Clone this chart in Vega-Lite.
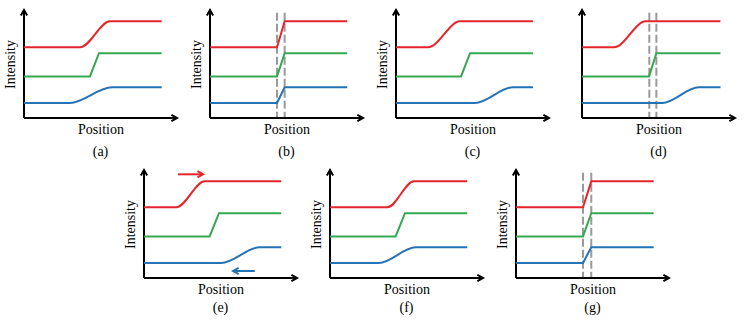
{
  "$schema": "https://vega.github.io/schema/vega-lite/v6.json",
  "background": "white",
  "padding": {"left": 3, "top": 6, "right": 0, "bottom": 0},
  "autosize": {"type": "pad"},
  "config": {
    "view": {"stroke": null},
    "axis": {"domain": false, "ticks": false, "labels": false, "grid": false, "titleFont": "Liberation Serif", "titleFontSize": 14, "titleFontWeight": "normal", "titleColor": "#000000"},
    "axisX": {"titlePadding": 4},
    "axisY": {"titlePadding": 7},
    "title": {"orient": "bottom", "frame": "group", "anchor": "middle", "font": "Liberation Serif", "fontSize": 14, "fontWeight": "normal", "color": "#000000"}
  },
  "datasets": {
    "rules": [
      {"p": "*", "s": "k", "x": 0, "y": 0, "x2": 10, "y2": 0},
      {"p": "*", "s": "k", "x": 0, "y": 0, "x2": 0, "y2": 10},
      {"p": "e", "s": "r", "x": 2.22, "y": 9.6, "x2": 3.86, "y2": 9.6},
      {"p": "e", "s": "b", "x": 5.82, "y": 0.65, "x2": 7.24, "y2": 0.65}
    ],
    "tips": [
      {"p": "*", "s": "k", "d": "r", "x": 10, "y": 0},
      {"p": "*", "s": "k", "d": "u", "x": 0, "y": 10},
      {"p": "e", "s": "r", "d": "r", "x": 3.86, "y": 9.6},
      {"p": "e", "s": "b", "d": "l", "x": 5.82, "y": 0.65}
    ],
    "dash": [
      {"p": "b", "s": "d", "x": 4.38, "y": 9.75, "y2": 0},
      {"p": "b", "s": "d", "x": 4.88, "y": 9.75, "y2": 0},
      {"p": "d", "s": "d", "x": 4.4, "y": 9.75, "y2": 0},
      {"p": "d", "s": "d", "x": 4.86, "y": 9.75, "y2": 0},
      {"p": "g", "s": "d", "x": 4.38, "y": 9.75, "y2": 0},
      {"p": "g", "s": "d", "x": 4.92, "y": 9.75, "y2": 0}
    ],
    "lines": [
      {"p": "a", "s": "r", "c": "s", "x": 0, "y": 6.55}, {"p": "a", "s": "r", "c": "s", "x": 3.66, "y": 6.55}, {"p": "a", "s": "r", "c": "s", "x": 5.62, "y": 8.95}, {"p": "a", "s": "r", "c": "s", "x": 9.0, "y": 8.95},
      {"p": "a", "s": "g", "c": "l", "x": 0, "y": 3.85}, {"p": "a", "s": "g", "c": "l", "x": 4.31, "y": 3.85}, {"p": "a", "s": "g", "c": "l", "x": 4.9, "y": 6.0}, {"p": "a", "s": "g", "c": "l", "x": 9.0, "y": 6.0},
      {"p": "a", "s": "b", "c": "s", "x": 0, "y": 1.4}, {"p": "a", "s": "b", "c": "s", "x": 3.0, "y": 1.4}, {"p": "a", "s": "b", "c": "s", "x": 5.75, "y": 2.85}, {"p": "a", "s": "b", "c": "s", "x": 9.0, "y": 2.85},

      {"p": "b", "s": "r", "c": "l", "x": 0, "y": 6.55}, {"p": "b", "s": "r", "c": "l", "x": 4.38, "y": 6.55}, {"p": "b", "s": "r", "c": "l", "x": 4.88, "y": 8.95}, {"p": "b", "s": "r", "c": "l", "x": 8.97, "y": 8.95},
      {"p": "b", "s": "g", "c": "l", "x": 0, "y": 3.85}, {"p": "b", "s": "g", "c": "l", "x": 4.38, "y": 3.85}, {"p": "b", "s": "g", "c": "l", "x": 4.88, "y": 6.0}, {"p": "b", "s": "g", "c": "l", "x": 8.97, "y": 6.0},
      {"p": "b", "s": "b", "c": "l", "x": 0, "y": 1.4}, {"p": "b", "s": "b", "c": "l", "x": 4.38, "y": 1.4}, {"p": "b", "s": "b", "c": "l", "x": 4.88, "y": 2.85}, {"p": "b", "s": "b", "c": "l", "x": 8.97, "y": 2.85},

      {"p": "c", "s": "r", "c": "s", "x": 0, "y": 6.55}, {"p": "c", "s": "r", "c": "s", "x": 2.09, "y": 6.55}, {"p": "c", "s": "r", "c": "s", "x": 4.18, "y": 8.95}, {"p": "c", "s": "r", "c": "s", "x": 8.95, "y": 8.95},
      {"p": "c", "s": "g", "c": "l", "x": 0, "y": 3.85}, {"p": "c", "s": "g", "c": "l", "x": 4.25, "y": 3.85}, {"p": "c", "s": "g", "c": "l", "x": 4.84, "y": 6.0}, {"p": "c", "s": "g", "c": "l", "x": 8.95, "y": 6.0},
      {"p": "c", "s": "b", "c": "s", "x": 0, "y": 1.4}, {"p": "c", "s": "b", "c": "s", "x": 5.16, "y": 1.4}, {"p": "c", "s": "b", "c": "s", "x": 7.65, "y": 2.85}, {"p": "c", "s": "b", "c": "s", "x": 8.95, "y": 2.85},

      {"p": "d", "s": "r", "c": "s", "x": 0, "y": 6.55}, {"p": "d", "s": "r", "c": "s", "x": 2.09, "y": 6.55}, {"p": "d", "s": "r", "c": "s", "x": 4.16, "y": 8.95}, {"p": "d", "s": "r", "c": "s", "x": 9.05, "y": 8.95},
      {"p": "d", "s": "g", "c": "l", "x": 0, "y": 3.85}, {"p": "d", "s": "g", "c": "l", "x": 4.38, "y": 3.85}, {"p": "d", "s": "g", "c": "l", "x": 4.86, "y": 6.0}, {"p": "d", "s": "g", "c": "l", "x": 9.05, "y": 6.0},
      {"p": "d", "s": "b", "c": "s", "x": 0, "y": 1.4}, {"p": "d", "s": "b", "c": "s", "x": 5.25, "y": 1.4}, {"p": "d", "s": "b", "c": "s", "x": 7.63, "y": 2.85}, {"p": "d", "s": "b", "c": "s", "x": 9.05, "y": 2.85},

      {"p": "e", "s": "r", "c": "s", "x": 0, "y": 6.55}, {"p": "e", "s": "r", "c": "s", "x": 2.1, "y": 6.55}, {"p": "e", "s": "r", "c": "s", "x": 3.97, "y": 8.95}, {"p": "e", "s": "r", "c": "s", "x": 8.97, "y": 8.95},
      {"p": "e", "s": "g", "c": "l", "x": 0, "y": 3.85}, {"p": "e", "s": "g", "c": "l", "x": 4.29, "y": 3.85}, {"p": "e", "s": "g", "c": "l", "x": 4.9, "y": 6.0}, {"p": "e", "s": "g", "c": "l", "x": 8.97, "y": 6.0},
      {"p": "e", "s": "b", "c": "s", "x": 0, "y": 1.4}, {"p": "e", "s": "b", "c": "s", "x": 5.05, "y": 1.4}, {"p": "e", "s": "b", "c": "s", "x": 7.56, "y": 2.85}, {"p": "e", "s": "b", "c": "s", "x": 8.97, "y": 2.85},

      {"p": "f", "s": "r", "c": "s", "x": 0, "y": 6.55}, {"p": "f", "s": "r", "c": "s", "x": 3.75, "y": 6.55}, {"p": "f", "s": "r", "c": "s", "x": 5.49, "y": 8.95}, {"p": "f", "s": "r", "c": "s", "x": 8.97, "y": 8.95},
      {"p": "f", "s": "g", "c": "l", "x": 0, "y": 3.85}, {"p": "f", "s": "g", "c": "l", "x": 4.29, "y": 3.85}, {"p": "f", "s": "g", "c": "l", "x": 4.9, "y": 6.0}, {"p": "f", "s": "g", "c": "l", "x": 8.97, "y": 6.0},
      {"p": "f", "s": "b", "c": "s", "x": 0, "y": 1.4}, {"p": "f", "s": "b", "c": "s", "x": 3.2, "y": 1.4}, {"p": "f", "s": "b", "c": "s", "x": 5.6, "y": 2.85}, {"p": "f", "s": "b", "c": "s", "x": 8.97, "y": 2.85},

      {"p": "g", "s": "r", "c": "l", "x": 0, "y": 6.55}, {"p": "g", "s": "r", "c": "l", "x": 4.38, "y": 6.55}, {"p": "g", "s": "r", "c": "l", "x": 4.92, "y": 8.95}, {"p": "g", "s": "r", "c": "l", "x": 9.0, "y": 8.95},
      {"p": "g", "s": "g", "c": "l", "x": 0, "y": 3.85}, {"p": "g", "s": "g", "c": "l", "x": 4.38, "y": 3.85}, {"p": "g", "s": "g", "c": "l", "x": 4.92, "y": 6.0}, {"p": "g", "s": "g", "c": "l", "x": 9.0, "y": 6.0},
      {"p": "g", "s": "b", "c": "l", "x": 0, "y": 1.4}, {"p": "g", "s": "b", "c": "l", "x": 4.38, "y": 1.4}, {"p": "g", "s": "b", "c": "l", "x": 4.92, "y": 2.85}, {"p": "g", "s": "b", "c": "l", "x": 9.0, "y": 2.85}
    ]
  },
  "vconcat": [
    {
      "bounds": "flush",
      "spacing": 33,
      "hconcat": [
        {
          "width": 153, "height": 108,
          "title": {"text": "(a)", "offset": 9},
          "encoding": {
            "x": {"field": "x", "type": "quantitative", "scale": {"domain": [0, 10], "nice": false}, "axis": {"title": "Position"}},
            "y": {"field": "y", "type": "quantitative", "scale": {"domain": [0, 10], "nice": false}, "axis": {"title": "Intensity"}},
            "color": {"field": "s", "type": "nominal", "scale": {"domain": ["k", "r", "g", "b", "d"], "range": ["#000000", "#e3262c", "#36a852", "#2473b6", "#9a9a9a"]}, "legend": null}
          },
          "layer": [
            {"data": {"name": "dash"}, "transform": [{"filter": "datum.p=='a'"}], "mark": {"type": "rule", "strokeDash": [8, 3], "strokeWidth": 2}, "encoding": {"y2": {"field": "y2"}}},
            {"data": {"name": "rules"}, "transform": [{"filter": "datum.p=='*'||datum.p=='a'"}], "mark": {"type": "rule", "strokeWidth": 2}, "encoding": {"x2": {"field": "x2"}, "y2": {"field": "y2"}}},
            {"data": {"name": "tips"}, "transform": [{"filter": "datum.p=='*'||datum.p=='a'"}], "mark": {"type": "point", "filled": false, "strokeWidth": 2, "size": 49, "opacity": 1}, "encoding": {"shape": {"field": "d", "type": "nominal", "scale": {"domain": ["r", "u", "l"], "range": ["M-1.6,-0.9L0,0L-1.6,0.9", "M-0.9,1.6L0,0L0.9,1.6", "M1.6,-0.9L0,0L1.6,0.9"]}, "legend": null}}},
            {"data": {"name": "lines"}, "transform": [{"filter": "datum.p=='a'&&datum.c=='s'"}], "mark": {"type": "line", "interpolate": "monotone", "strokeWidth": 2}},
            {"data": {"name": "lines"}, "transform": [{"filter": "datum.p=='a'&&datum.c=='l'"}], "mark": {"type": "line", "strokeWidth": 2}}
          ]
        },
        {
          "width": 153, "height": 108,
          "title": {"text": "(b)", "offset": 9},
          "encoding": {
            "x": {"field": "x", "type": "quantitative", "scale": {"domain": [0, 10], "nice": false}, "axis": {"title": "Position"}},
            "y": {"field": "y", "type": "quantitative", "scale": {"domain": [0, 10], "nice": false}, "axis": {"title": "Intensity"}},
            "color": {"field": "s", "type": "nominal", "scale": {"domain": ["k", "r", "g", "b", "d"], "range": ["#000000", "#e3262c", "#36a852", "#2473b6", "#9a9a9a"]}, "legend": null}
          },
          "layer": [
            {"data": {"name": "dash"}, "transform": [{"filter": "datum.p=='b'"}], "mark": {"type": "rule", "strokeDash": [8, 3], "strokeWidth": 2}, "encoding": {"y2": {"field": "y2"}}},
            {"data": {"name": "rules"}, "transform": [{"filter": "datum.p=='*'||datum.p=='b'"}], "mark": {"type": "rule", "strokeWidth": 2}, "encoding": {"x2": {"field": "x2"}, "y2": {"field": "y2"}}},
            {"data": {"name": "tips"}, "transform": [{"filter": "datum.p=='*'||datum.p=='b'"}], "mark": {"type": "point", "filled": false, "strokeWidth": 2, "size": 49, "opacity": 1}, "encoding": {"shape": {"field": "d", "type": "nominal", "scale": {"domain": ["r", "u", "l"], "range": ["M-1.6,-0.9L0,0L-1.6,0.9", "M-0.9,1.6L0,0L0.9,1.6", "M1.6,-0.9L0,0L1.6,0.9"]}, "legend": null}}},
            {"data": {"name": "lines"}, "transform": [{"filter": "datum.p=='b'&&datum.c=='s'"}], "mark": {"type": "line", "interpolate": "monotone", "strokeWidth": 2}},
            {"data": {"name": "lines"}, "transform": [{"filter": "datum.p=='b'&&datum.c=='l'"}], "mark": {"type": "line", "strokeWidth": 2}}
          ]
        },
        {
          "width": 153, "height": 108,
          "title": {"text": "(c)", "offset": 9},
          "encoding": {
            "x": {"field": "x", "type": "quantitative", "scale": {"domain": [0, 10], "nice": false}, "axis": {"title": "Position"}},
            "y": {"field": "y", "type": "quantitative", "scale": {"domain": [0, 10], "nice": false}, "axis": {"title": "Intensity"}},
            "color": {"field": "s", "type": "nominal", "scale": {"domain": ["k", "r", "g", "b", "d"], "range": ["#000000", "#e3262c", "#36a852", "#2473b6", "#9a9a9a"]}, "legend": null}
          },
          "layer": [
            {"data": {"name": "dash"}, "transform": [{"filter": "datum.p=='c'"}], "mark": {"type": "rule", "strokeDash": [8, 3], "strokeWidth": 2}, "encoding": {"y2": {"field": "y2"}}},
            {"data": {"name": "rules"}, "transform": [{"filter": "datum.p=='*'||datum.p=='c'"}], "mark": {"type": "rule", "strokeWidth": 2}, "encoding": {"x2": {"field": "x2"}, "y2": {"field": "y2"}}},
            {"data": {"name": "tips"}, "transform": [{"filter": "datum.p=='*'||datum.p=='c'"}], "mark": {"type": "point", "filled": false, "strokeWidth": 2, "size": 49, "opacity": 1}, "encoding": {"shape": {"field": "d", "type": "nominal", "scale": {"domain": ["r", "u", "l"], "range": ["M-1.6,-0.9L0,0L-1.6,0.9", "M-0.9,1.6L0,0L0.9,1.6", "M1.6,-0.9L0,0L1.6,0.9"]}, "legend": null}}},
            {"data": {"name": "lines"}, "transform": [{"filter": "datum.p=='c'&&datum.c=='s'"}], "mark": {"type": "line", "interpolate": "monotone", "strokeWidth": 2}},
            {"data": {"name": "lines"}, "transform": [{"filter": "datum.p=='c'&&datum.c=='l'"}], "mark": {"type": "line", "strokeWidth": 2}}
          ]
        },
        {
          "width": 153, "height": 108,
          "title": {"text": "(d)", "offset": 9},
          "encoding": {
            "x": {"field": "x", "type": "quantitative", "scale": {"domain": [0, 10], "nice": false}, "axis": {"title": "Position"}},
            "y": {"field": "y", "type": "quantitative", "scale": {"domain": [0, 10], "nice": false}, "axis": {"title": null}},
            "color": {"field": "s", "type": "nominal", "scale": {"domain": ["k", "r", "g", "b", "d"], "range": ["#000000", "#e3262c", "#36a852", "#2473b6", "#9a9a9a"]}, "legend": null}
          },
          "layer": [
            {"data": {"name": "dash"}, "transform": [{"filter": "datum.p=='d'"}], "mark": {"type": "rule", "strokeDash": [8, 3], "strokeWidth": 2}, "encoding": {"y2": {"field": "y2"}}},
            {"data": {"name": "rules"}, "transform": [{"filter": "datum.p=='*'||datum.p=='d'"}], "mark": {"type": "rule", "strokeWidth": 2}, "encoding": {"x2": {"field": "x2"}, "y2": {"field": "y2"}}},
            {"data": {"name": "tips"}, "transform": [{"filter": "datum.p=='*'||datum.p=='d'"}], "mark": {"type": "point", "filled": false, "strokeWidth": 2, "size": 49, "opacity": 1}, "encoding": {"shape": {"field": "d", "type": "nominal", "scale": {"domain": ["r", "u", "l"], "range": ["M-1.6,-0.9L0,0L-1.6,0.9", "M-0.9,1.6L0,0L0.9,1.6", "M1.6,-0.9L0,0L1.6,0.9"]}, "legend": null}}},
            {"data": {"name": "lines"}, "transform": [{"filter": "datum.p=='d'&&datum.c=='s'"}], "mark": {"type": "line", "interpolate": "monotone", "strokeWidth": 2}},
            {"data": {"name": "lines"}, "transform": [{"filter": "datum.p=='d'&&datum.c=='l'"}], "mark": {"type": "line", "strokeWidth": 2}}
          ]
        }
      ]
    },
    {
      "bounds": "flush",
      "spacing": 33,
      "hconcat": [
        {
          "width": 87, "height": 108,
          "data": {"values": [{"t": ""}]},
          "mark": {"type": "text"},
          "encoding": {"text": {"field": "t"}}
        },
        {
          "width": 153, "height": 108,
          "title": {"text": "(e)", "offset": 5},
          "encoding": {
            "x": {"field": "x", "type": "quantitative", "scale": {"domain": [0, 10], "nice": false}, "axis": {"title": "Position"}},
            "y": {"field": "y", "type": "quantitative", "scale": {"domain": [0, 10], "nice": false}, "axis": {"title": "Intensity"}},
            "color": {"field": "s", "type": "nominal", "scale": {"domain": ["k", "r", "g", "b", "d"], "range": ["#000000", "#e3262c", "#36a852", "#2473b6", "#9a9a9a"]}, "legend": null}
          },
          "layer": [
            {"data": {"name": "dash"}, "transform": [{"filter": "datum.p=='e'"}], "mark": {"type": "rule", "strokeDash": [8, 3], "strokeWidth": 2}, "encoding": {"y2": {"field": "y2"}}},
            {"data": {"name": "rules"}, "transform": [{"filter": "datum.p=='*'||datum.p=='e'"}], "mark": {"type": "rule", "strokeWidth": 2}, "encoding": {"x2": {"field": "x2"}, "y2": {"field": "y2"}}},
            {"data": {"name": "tips"}, "transform": [{"filter": "datum.p=='*'||datum.p=='e'"}], "mark": {"type": "point", "filled": false, "strokeWidth": 2, "size": 49, "opacity": 1}, "encoding": {"shape": {"field": "d", "type": "nominal", "scale": {"domain": ["r", "u", "l"], "range": ["M-1.6,-0.9L0,0L-1.6,0.9", "M-0.9,1.6L0,0L0.9,1.6", "M1.6,-0.9L0,0L1.6,0.9"]}, "legend": null}}},
            {"data": {"name": "lines"}, "transform": [{"filter": "datum.p=='e'&&datum.c=='s'"}], "mark": {"type": "line", "interpolate": "monotone", "strokeWidth": 2}},
            {"data": {"name": "lines"}, "transform": [{"filter": "datum.p=='e'&&datum.c=='l'"}], "mark": {"type": "line", "strokeWidth": 2}}
          ]
        },
        {
          "width": 153, "height": 108,
          "title": {"text": "(f)", "offset": 5},
          "encoding": {
            "x": {"field": "x", "type": "quantitative", "scale": {"domain": [0, 10], "nice": false}, "axis": {"title": "Position"}},
            "y": {"field": "y", "type": "quantitative", "scale": {"domain": [0, 10], "nice": false}, "axis": {"title": "Intensity"}},
            "color": {"field": "s", "type": "nominal", "scale": {"domain": ["k", "r", "g", "b", "d"], "range": ["#000000", "#e3262c", "#36a852", "#2473b6", "#9a9a9a"]}, "legend": null}
          },
          "layer": [
            {"data": {"name": "dash"}, "transform": [{"filter": "datum.p=='f'"}], "mark": {"type": "rule", "strokeDash": [8, 3], "strokeWidth": 2}, "encoding": {"y2": {"field": "y2"}}},
            {"data": {"name": "rules"}, "transform": [{"filter": "datum.p=='*'||datum.p=='f'"}], "mark": {"type": "rule", "strokeWidth": 2}, "encoding": {"x2": {"field": "x2"}, "y2": {"field": "y2"}}},
            {"data": {"name": "tips"}, "transform": [{"filter": "datum.p=='*'||datum.p=='f'"}], "mark": {"type": "point", "filled": false, "strokeWidth": 2, "size": 49, "opacity": 1}, "encoding": {"shape": {"field": "d", "type": "nominal", "scale": {"domain": ["r", "u", "l"], "range": ["M-1.6,-0.9L0,0L-1.6,0.9", "M-0.9,1.6L0,0L0.9,1.6", "M1.6,-0.9L0,0L1.6,0.9"]}, "legend": null}}},
            {"data": {"name": "lines"}, "transform": [{"filter": "datum.p=='f'&&datum.c=='s'"}], "mark": {"type": "line", "interpolate": "monotone", "strokeWidth": 2}},
            {"data": {"name": "lines"}, "transform": [{"filter": "datum.p=='f'&&datum.c=='l'"}], "mark": {"type": "line", "strokeWidth": 2}}
          ]
        },
        {
          "width": 153, "height": 108,
          "title": {"text": "(g)", "offset": 5},
          "encoding": {
            "x": {"field": "x", "type": "quantitative", "scale": {"domain": [0, 10], "nice": false}, "axis": {"title": "Position"}},
            "y": {"field": "y", "type": "quantitative", "scale": {"domain": [0, 10], "nice": false}, "axis": {"title": "Intensity"}},
            "color": {"field": "s", "type": "nominal", "scale": {"domain": ["k", "r", "g", "b", "d"], "range": ["#000000", "#e3262c", "#36a852", "#2473b6", "#9a9a9a"]}, "legend": null}
          },
          "layer": [
            {"data": {"name": "dash"}, "transform": [{"filter": "datum.p=='g'"}], "mark": {"type": "rule", "strokeDash": [8, 3], "strokeWidth": 2}, "encoding": {"y2": {"field": "y2"}}},
            {"data": {"name": "rules"}, "transform": [{"filter": "datum.p=='*'||datum.p=='g'"}], "mark": {"type": "rule", "strokeWidth": 2}, "encoding": {"x2": {"field": "x2"}, "y2": {"field": "y2"}}},
            {"data": {"name": "tips"}, "transform": [{"filter": "datum.p=='*'||datum.p=='g'"}], "mark": {"type": "point", "filled": false, "strokeWidth": 2, "size": 49, "opacity": 1}, "encoding": {"shape": {"field": "d", "type": "nominal", "scale": {"domain": ["r", "u", "l"], "range": ["M-1.6,-0.9L0,0L-1.6,0.9", "M-0.9,1.6L0,0L0.9,1.6", "M1.6,-0.9L0,0L1.6,0.9"]}, "legend": null}}},
            {"data": {"name": "lines"}, "transform": [{"filter": "datum.p=='g'&&datum.c=='s'"}], "mark": {"type": "line", "interpolate": "monotone", "strokeWidth": 2}},
            {"data": {"name": "lines"}, "transform": [{"filter": "datum.p=='g'&&datum.c=='l'"}], "mark": {"type": "line", "strokeWidth": 2}}
          ]
        }
      ]
    }
  ],
  "spacing": 7
}
